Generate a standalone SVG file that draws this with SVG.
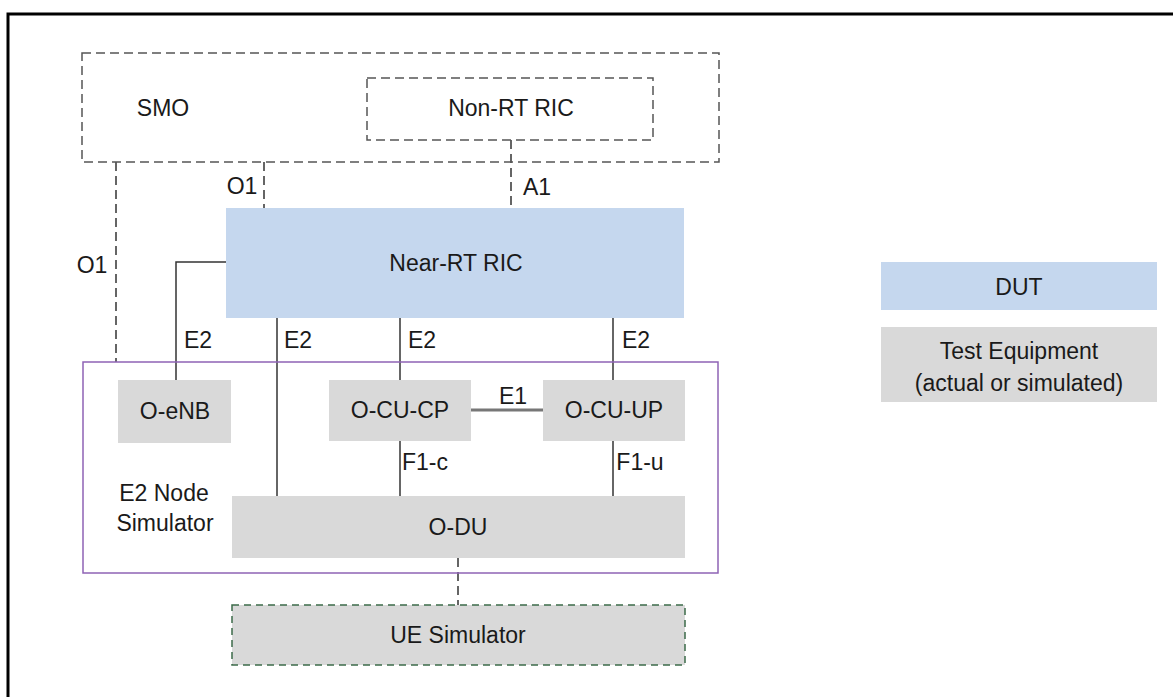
<svg xmlns="http://www.w3.org/2000/svg" width="1173" height="697" viewBox="0 0 1173 697">
<style>
text{font-family:"Liberation Sans",Arial,sans-serif;font-size:23px;fill:#1a1a1a;text-anchor:middle}
.dut{fill:#c5d7ee}
.te{fill:#d9d9d9}
.dash{fill:none;stroke:#555;stroke-width:1.5;stroke-dasharray:9 5}
.ln{fill:none;stroke:#333;stroke-width:1.5}
.dl{fill:none;stroke:#333;stroke-width:1.5;stroke-dasharray:9 5}
</style>
<rect width="1173" height="697" fill="#fff"/>
<path d="M8,697 V14 H1173" fill="none" stroke="#000" stroke-width="3"/>
<g id="connectors">
<path class="dl" d="M116,162 V362"/>
<path class="dl" d="M264,162 V208"/>
<path class="dl" d="M511,140 V208"/>
<path class="ln" d="M226,262 H176 V380"/>
<path class="ln" d="M277,318 V496"/>
<path class="ln" d="M400,318 V380"/>
<path class="ln" d="M613,318 V380"/>
<path d="M471,410 H543" stroke="#777" stroke-width="3"/>
<path class="ln" d="M400,441 V496"/>
<path class="ln" d="M613,441 V496"/>
<path class="dl" d="M458,558 V605"/>
<text x="242" y="194">O1</text>
<text x="537" y="195">A1</text>
<text x="92" y="273">O1</text>
<text x="198" y="348">E2</text>
<text x="298" y="348">E2</text>
<text x="422" y="348">E2</text>
<text x="636" y="348">E2</text>
<text x="513" y="404">E1</text>
<text x="425" y="470">F1-c</text>
<text x="640" y="470">F1-u</text>
</g>
<g id="smo">
<rect class="dash" x="82" y="53" width="637" height="109"/>
<text x="163" y="116">SMO</text>
</g>
<g id="non-rt-ric">
<rect class="dash" x="367" y="78" width="286" height="62"/>
<text x="511" y="116">Non-RT RIC</text>
</g>
<g id="near-rt-ric">
<rect class="dut" x="226" y="208" width="458" height="110"/>
<text x="456" y="271">Near-RT RIC</text>
</g>
<g id="e2-node-simulator">
<rect x="83" y="362" width="635" height="211" fill="none" stroke="#8e63b5" stroke-width="1.5"/>
<text x="164" y="501">E2 Node</text>
<text x="165" y="531">Simulator</text>
</g>
<g id="o-enb">
<rect class="te" x="118" y="380" width="113" height="63"/>
<text x="175" y="419">O-eNB</text>
</g>
<g id="o-cu-cp">
<rect class="te" x="329" y="380" width="142" height="61"/>
<text x="400" y="418">O-CU-CP</text>
</g>
<g id="o-cu-up">
<rect class="te" x="543" y="380" width="142" height="61"/>
<text x="614" y="418">O-CU-UP</text>
</g>
<g id="o-du">
<rect class="te" x="232" y="496" width="453" height="62"/>
<text x="458" y="535">O-DU</text>
</g>
<g id="ue-simulator">
<rect class="te" x="232" y="605" width="453" height="60" stroke="#3d6b4a" stroke-width="1.5" stroke-dasharray="7 5"/>
<text x="458" y="643">UE Simulator</text>
</g>
<g id="legend-dut">
<rect class="dut" x="881" y="262" width="276" height="48"/>
<text x="1019" y="295">DUT</text>
</g>
<g id="legend-test-equipment">
<rect class="te" x="881" y="327" width="276" height="75"/>
<text x="1019" y="359">Test Equipment</text>
<text x="1019" y="391">(actual or simulated)</text>
</g>
</svg>
